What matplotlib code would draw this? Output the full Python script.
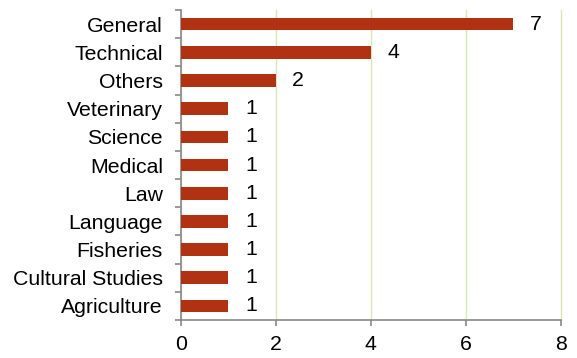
import numpy as np
import matplotlib.pyplot as plt

plt.rcParams['font.family'] = ['Liberation Sans', 'DejaVu Sans']

categories = ['Agriculture', 'Cultural Studies', 'Fisheries', 'Language', 'Law',
              'Medical', 'Science', 'Veterinary', 'Others', 'Technical', 'General']
counts = [1, 1, 1, 1, 1, 1, 1, 1, 2, 4, 7]

fig = plt.figure(figsize=(5.77, 3.58), dpi=100)
ax = fig.add_axes([0.3137, 0.106, 0.972 - 0.3137, 0.972 - 0.106])

y = np.arange(len(categories))
ax.barh(y, counts, height=0.45, color='#B13213', zorder=3)
for yi, v in zip(y, counts):
    ax.text(v + 0.47, yi, str(v), va='center', ha='center', fontsize=15.3)

ax.set_xlim(0, 8)
ax.set_ylim(-0.5, len(categories) - 0.5)
ax.set_xticks([0, 2, 4, 6, 8])
ax.set_yticks(y)
ax.set_yticklabels(categories)
ax.set_yticks(np.arange(-0.5, len(categories)), minor=True)
ax.tick_params(axis='y', which='major', length=0, pad=13, labelsize=15.3)
ax.tick_params(axis='y', which='minor', length=4, color='#888888', width=1.2)
ax.tick_params(axis='x', length=4, color='#888888', width=1.2, labelsize=15.3, pad=7)

ax.grid(axis='x', color='#D7E8B4', linewidth=1, zorder=0)
for gl in ax.get_xgridlines():
    gl.set_clip_on(False)
for s in ['top', 'right']:
    ax.spines[s].set_visible(False)
for s in ['left', 'bottom']:
    ax.spines[s].set_color('#888888')
    ax.spines[s].set_linewidth(1.2)

fig.savefig('out.png', dpi=100)
